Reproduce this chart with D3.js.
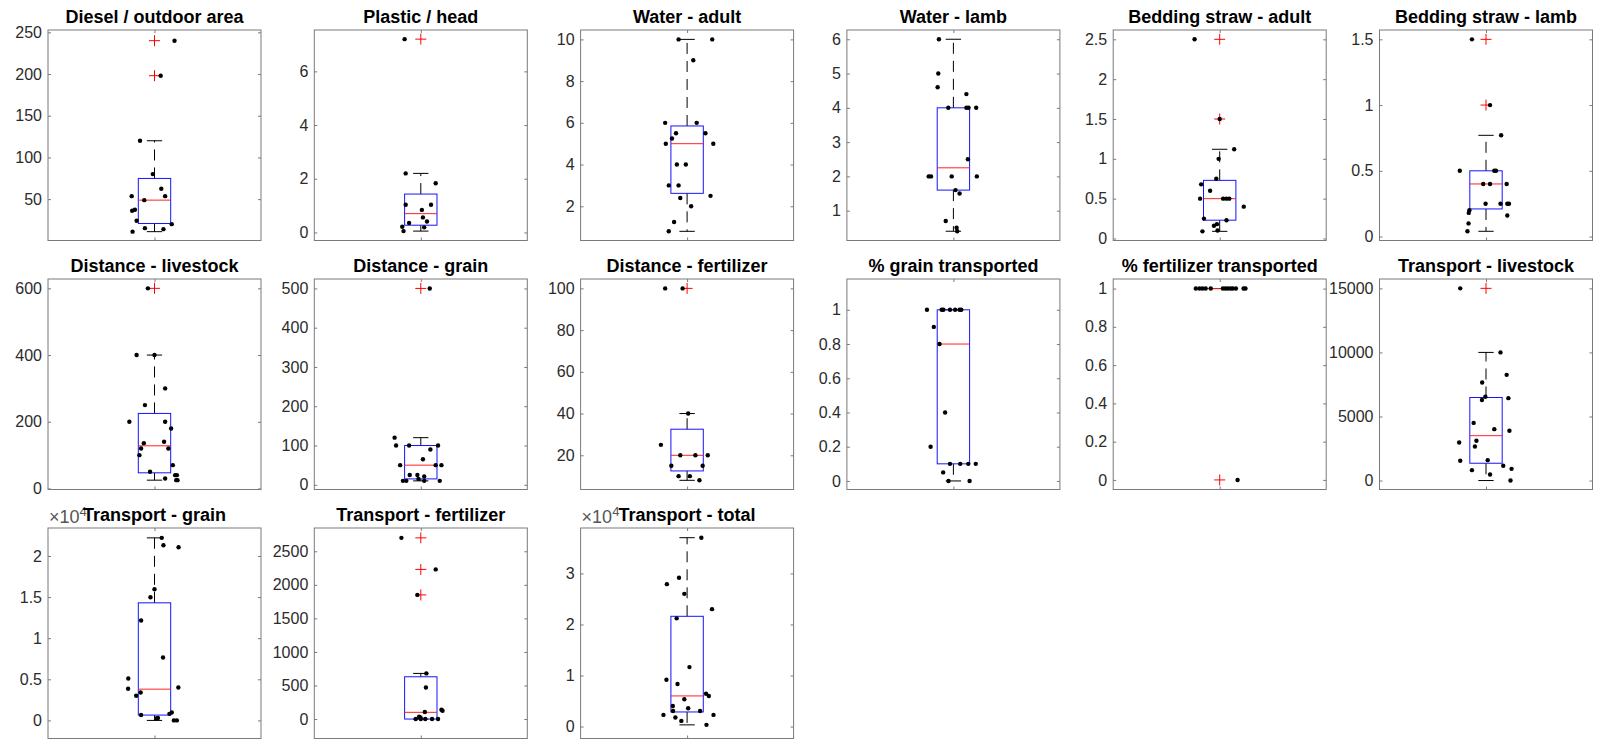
<!DOCTYPE html>
<html>
<head>
<meta charset="utf-8">
<script src="https://cdn.jsdelivr.net/npm/d3@7"></script>
<style>
  body { margin: 0; background: #fff; }
  svg { display: block; font-family: "Liberation Sans", Arial, sans-serif; }
</style>
</head>
<body>
<svg id="chart" width="1600" height="740"></svg>
<script>
// ---- Panel titles (row-major, 6 per row) ----
const titles = [
  "Diesel / outdoor area", "Plastic / head", "Water - adult", "Water - lamb",
  "Bedding straw - adult", "Bedding straw - lamb",
  "Distance - livestock", "Distance - grain", "Distance - fertilizer",
  "% grain transported", "% fertilizer transported", "Transport - livestock",
  "Transport - grain", "Transport - fertilizer", "Transport - total"
];

// ---- Farm observations (value) and horizontal scatter jitter for each variable ----
const dieselArea    = [240, 198, 120, 80, 62.4, 53.6, 53.6, 48.8, 37.2, 36, 24, 20, 15.2, 14, 11];
const dieselJitter  = [0.094, 0.029, -0.068, -0.008, 0.032, 0.050, -0.107, -0.048, -0.092, -0.105, -0.084, 0.081, -0.045, 0.042, -0.103];

const plasticHead   = [7.2, 2.2, 1.83, 1.03, 1.03, 0.84, 0.56, 0.41, 0.35, 0.21, 0.19, 0.05];
const plasticJitter = [-0.076, -0.071, 0.070, -0.071, 0.048, 0.005, 0.010, 0.029, -0.055, -0.087, 0.016, -0.081];

const waterAdult    = [10, 10, 9, 6, 6, 5.5, 5.5, 5.25, 5, 5, 4, 4, 3, 3, 2.5, 2.4, 2, 1.25, 0.8];
const waterAdultJit = [-0.040, 0.118, 0.029, -0.103, 0.045, -0.052, 0.086, -0.071, -0.100, 0.123, -0.048, -0.006, -0.086, -0.040, 0.110, -0.032, 0.019, -0.061, -0.086];

const waterLamb     = [6, 5, 4.6, 4.4, 4, 4, 4, 4, 2.5, 2, 2, 2, 2, 1.6, 1.5, 0.7, 0.5, 0.4];
const waterLambJit  = [-0.068, -0.071, -0.074, 0.061, -0.024, 0.061, 0.071, 0.107, 0.068, -0.116, -0.105, -0.008, 0.110, 0.010, 0.029, -0.036, 0.015, 0.018];

const strawAdult    = [2.5, 1.5, 1.12, 1.0, 0.75, 0.68, 0.6, 0.5, 0.5, 0.5, 0.5, 0.4, 0.25, 0.23, 0.18, 0.16, 0.1, 0.09];
const strawAdultJit = [-0.118, 0.0, 0.068, -0.005, -0.016, -0.087, -0.045, -0.092, 0.016, 0.031, 0.045, 0.113, -0.074, 0.032, -0.013, -0.027, -0.010, -0.081];

const strawLamb     = [1.5, 1.0, 0.77, 0.5, 0.5, 0.5, 0.4, 0.4, 0.4, 0.25, 0.25, 0.25, 0.25, 0.2, 0.18, 0.16, 0.1, 0.04];
const strawLambJit  = [-0.066, 0.019, 0.071, -0.123, 0.039, 0.047, -0.013, 0.019, 0.097, -0.002, 0.068, 0.100, 0.108, -0.078, -0.081, 0.100, -0.082, -0.087];

const distLivestock = [600, 400, 400, 300, 250, 200, 200, 180, 140, 136, 120, 120, 100, 70, 50, 40, 40, 30, 25, 25];
const distLiveJit   = [-0.031, -0.084, 0, 0.050, -0.045, -0.118, 0.050, 0.078, 0.045, -0.050, -0.063, 0.065, -0.071, 0.086, -0.021, 0.097, 0.105, 0.050, 0.102, 0.108];

const distGrain     = [500, 120, 100, 100, 100, 90, 65, 50, 50, 50, 25, 25, 21, 15, 10, 10, 10, 10];
const distGrainJit  = [0.042, -0.123, -0.116, -0.055, 0.081, 0.045, 0.010, -0.097, 0.070, 0.097, -0.052, -0.016, 0.016, -0.011, -0.084, -0.068, 0.016, 0.089];

const distFert      = [100, 100, 40, 25, 20, 20, 20, 15, 15, 10, 10, 8];
const distFertJit   = [-0.103, -0.021, 0.005, -0.123, -0.032, 0.039, 0.097, -0.074, 0.073, -0.040, 0.013, 0.058];

const grainShare    = [1, 1, 1, 1, 1, 1, 1, 0.9, 0.8, 0.4, 0.2, 0.1, 0.1, 0.1, 0.1, 0.05, 0, 0];
const grainShareJit = [-0.124, -0.055, -0.047, -0.016, 0.008, 0.029, 0.037, -0.092, -0.065, -0.039, -0.107, -0.016, 0.032, 0.070, 0.105, -0.048, -0.023, 0.076];

const fertShare     = [1, 1, 1, 1, 1, 1, 1, 1, 1, 1, 1, 1, 1, 0];
const fertShareJit  = [-0.112, -0.095, -0.081, -0.066, -0.042, 0.015, 0.027, 0.039, 0.052, 0.061, 0.076, 0.112, 0.121, 0.084];

const transLivestock = [15000, 10000, 8250, 7650, 6540, 6430, 6280, 4500, 4010, 3880, 3100, 2970, 2660, 1590, 1540, 1150, 910, 810, 470, 0];
const transLiveJit   = [-0.121, 0.068, 0.097, -0.018, -0.003, 0.105, -0.019, -0.058, 0.039, 0.110, -0.045, -0.126, -0.052, 0.008, -0.121, 0.081, 0.120, -0.066, 0.019, 0.115];

const transGrain     = [22200, 21300, 21050, 15950, 14980, 12150, 7650, 5100, 4000, 3850, 3400, 3000, 970, 800, 650, 300, 240, 0, 0];
const transGrainJit  = [0.034, 0.042, 0.113, 0, -0.019, -0.063, 0.040, -0.123, 0.112, -0.124, -0.065, -0.086, 0.081, 0.070, -0.063, 0.016, 0.008, 0.091, 0.105];

const transFert      = [2700, 2230, 1850, 680, 471, 139, 124, 104, 35, 25, 0, 0, 0, 0, 0];
const transFertJit   = [-0.091, 0.070, -0.016, 0.026, 0.024, 0.097, 0.102, 0.019, -0.008, -0.002, -0.024, 0, 0.021, 0.053, 0.081];

const transTotal     = [37000, 29150, 27900, 26000, 23000, 21200, 11650, 9170, 8330, 6440, 6000, 5340, 4040, 3580, 3060, 3060, 2280, 2280, 1760, 1110, 330];
const transTotalJit  = [0.067, -0.038, -0.095, -0.013, 0.117, -0.049, 0.011, -0.097, -0.045, 0.089, 0.102, -0.013, -0.067, 0.005, -0.066, 0.061, -0.111, 0.124, -0.055, -0.027, 0.091];

// ---- Box statistics: [lower whisker, Q1, median, Q3, upper whisker] ----
const boxStats = [
  [11, 20.8, 48.8, 74.8, 120],
  [0.05, 0.27, 0.70, 1.43, 2.2],
  [0.8, 2.62, 5, 5.85, 10],
  [0.4, 1.6, 2.25, 4, 6],
  [0.09, 0.23, 0.5, 0.73, 1.12],
  [0.04, 0.21, 0.4, 0.5, 0.77],
  [25, 47, 128, 225, 400],
  [10, 15, 50, 100, 120],
  [8, 12.5, 20, 32.5, 40],
  [0, 0.1, 0.8, 1, 1],
  [1, 1, 1, 1, 1],
  [0, 1350, 3500, 6480, 10000],
  [0, 650, 3800, 14300, 22200],
  [0, 0, 100, 630, 680],
  [330, 2860, 6000, 21600, 37000]
];

// ---- Outliers flagged by the box plot ----
const outliers = [
  [240, 198], [7.2], [], [], [2.5, 1.5], [1.5, 1.0],
  [600], [500], [100], [], [0], [15000],
  [], [2700, 2230, 1850], []
];

// ---- Y limits and tick values ----
const yLimits = [
  [0.4, 252.8], [-0.3, 7.54], [0.36, 10.45], [0.13, 6.27], [-0.025, 2.617], [-0.03, 1.571],
  [-3, 628], [-12, 524], [3.6, 104.5], [-0.05, 1.18], [-0.05, 1.05], [-700, 15730],
  [-2200, 23400], [-290, 2847], [-2340, 38900]
];
const yTicks = [
  [50, 100, 150, 200, 250], [0, 2, 4, 6], [2, 4, 6, 8, 10], [1, 2, 3, 4, 5, 6],
  [0, 0.5, 1, 1.5, 2, 2.5], [0, 0.5, 1, 1.5],
  [0, 200, 400, 600], [0, 100, 200, 300, 400, 500], [20, 40, 60, 80, 100],
  [0, 0.2, 0.4, 0.6, 0.8, 1], [0, 0.2, 0.4, 0.6, 0.8, 1], [0, 5000, 10000, 15000],
  [0, 5000, 10000, 15000, 20000], [0, 500, 1000, 1500, 2000, 2500], [0, 10000, 20000, 30000]
];
// power-of-ten exponent shown above the axis (0 = none)
const yExponent = [0, 0, 0, 0, 0, 0, 0, 0, 0, 0, 0, 0, 4, 0, 4];

const seriesValues = [dieselArea, plasticHead, waterAdult, waterLamb, strawAdult, strawLamb,
  distLivestock, distGrain, distFert, grainShare, fertShare, transLivestock,
  transGrain, transFert, transTotal];
const seriesJitter = [dieselJitter, plasticJitter, waterAdultJit, waterLambJit, strawAdultJit, strawLambJit,
  distLiveJit, distGrainJit, distFertJit, grainShareJit, fertShareJit, transLiveJit,
  transGrainJit, transFertJit, transTotalJit];

// ---- Layout ----
const nCols = 6;
const colLeft = 48, colPitch = 266.3, plotW = 213;
const rowTop = 30, rowPitch = 249, plotH = 210.5;
const boxHalf = 0.076, capHalf = 0.036, plusArm = 5.5;
const axisColor = "#7a7a7a", labelColor = "#2b2b2b";

const svg = d3.select("#chart");

titles.forEach((title, i) => {
  const c = i % nCols, r = Math.floor(i / nCols);
  const g = svg.append("g")
    .attr("transform", `translate(${colLeft + c * colPitch},${rowTop + r * rowPitch})`);

  const x = d3.scaleLinear().domain([0.5, 1.5]).range([0, plotW]);
  const y = d3.scaleLinear().domain(yLimits[i]).range([plotH, 0]);
  const e = yExponent[i];
  const fmt = e ? (d => String(+(d / Math.pow(10, e)).toFixed(3))) : (d => String(d));

  // frame
  g.append("rect")
    .attr("x", 0).attr("y", 0).attr("width", plotW).attr("height", plotH)
    .attr("fill", "none").attr("stroke", axisColor).attr("stroke-width", 1);

  // left axis (ticks pointing inward) with labels
  const left = g.append("g").call(
    d3.axisLeft(y).tickValues(yTicks[i]).tickFormat(fmt).tickSize(-3).tickSizeOuter(0).tickPadding(6));
  left.select(".domain").remove();
  left.selectAll(".tick line").attr("stroke", axisColor);
  left.selectAll(".tick text")
    .attr("fill", labelColor).style("font-size", "16px")
    .style("font-family", "\"Liberation Sans\", Arial, sans-serif");

  // right axis ticks (no labels)
  const right = g.append("g").attr("transform", `translate(${plotW},0)`).call(
    d3.axisRight(y).tickValues(yTicks[i]).tickFormat("").tickSize(-3).tickSizeOuter(0));
  right.select(".domain").remove();
  right.selectAll(".tick line").attr("stroke", axisColor);

  // x tick at the single group position, top and bottom
  const bottom = g.append("g").attr("transform", `translate(0,${plotH})`).call(
    d3.axisBottom(x).tickValues([1]).tickFormat("").tickSize(-3).tickSizeOuter(0));
  bottom.select(".domain").remove();
  bottom.selectAll(".tick line").attr("stroke", axisColor);
  const top = g.append("g").call(
    d3.axisTop(x).tickValues([1]).tickFormat("").tickSize(-3).tickSizeOuter(0));
  top.select(".domain").remove();
  top.selectAll(".tick line").attr("stroke", axisColor);

  // exponent label (partly covered by the title, drawn later)
  if (e) {
    const t = g.append("text")
      .attr("x", 1).attr("y", -5)
      .attr("fill", "#555").style("font-size", "18px");
    t.append("tspan").text("\u00d710");
    t.append("tspan").attr("dy", -7).style("font-size", "13px").text(String(e));
  }

  // box plot
  const [lo, q1, med, q3, hi] = boxStats[i];
  const bp = g.append("g");
  bp.append("line")
    .attr("x1", x(1)).attr("x2", x(1)).attr("y1", y(q3)).attr("y2", y(hi))
    .attr("stroke", "#000").attr("stroke-dasharray", "11,7");
  bp.append("line")
    .attr("x1", x(1)).attr("x2", x(1)).attr("y1", y(q1)).attr("y2", y(lo))
    .attr("stroke", "#000").attr("stroke-dasharray", "11,7");
  [hi, lo].forEach(v => {
    bp.append("line")
      .attr("x1", x(1 - capHalf)).attr("x2", x(1 + capHalf))
      .attr("y1", y(v)).attr("y2", y(v)).attr("stroke", "#000");
  });
  bp.append("rect")
    .attr("x", x(1 - boxHalf)).attr("width", x(1 + boxHalf) - x(1 - boxHalf))
    .attr("y", y(q3)).attr("height", Math.max(0, y(q1) - y(q3)))
    .attr("fill", "none").attr("stroke", "#1414ff");
  bp.append("line")
    .attr("x1", x(1 - boxHalf)).attr("x2", x(1 + boxHalf))
    .attr("y1", y(med)).attr("y2", y(med)).attr("stroke", "#ff2020");

  // outliers
  outliers[i].forEach(v => {
    bp.append("path")
      .attr("d", `M${x(1) - plusArm},${y(v)}H${x(1) + plusArm}M${x(1)},${y(v) - plusArm}V${y(v) + plusArm}`)
      .attr("stroke", "#ff0000").attr("fill", "none");
  });

  // individual observations
  g.append("g").selectAll("circle")
    .data(seriesValues[i].map((v, k) => ({ v, j: seriesJitter[i][k] })))
    .join("circle")
    .attr("cx", d => x(1 + d.j))
    .attr("cy", d => y(d.v))
    .attr("r", 2.2)
    .attr("fill", "#000");

  // title
  g.append("text")
    .attr("x", plotW / 2).attr("y", -7.5)
    .attr("text-anchor", "middle")
    .attr("fill", "#000")
    .style("font-size", "18px").style("font-weight", "bold")
    .text(title);
});
</script>
</body>
</html>
